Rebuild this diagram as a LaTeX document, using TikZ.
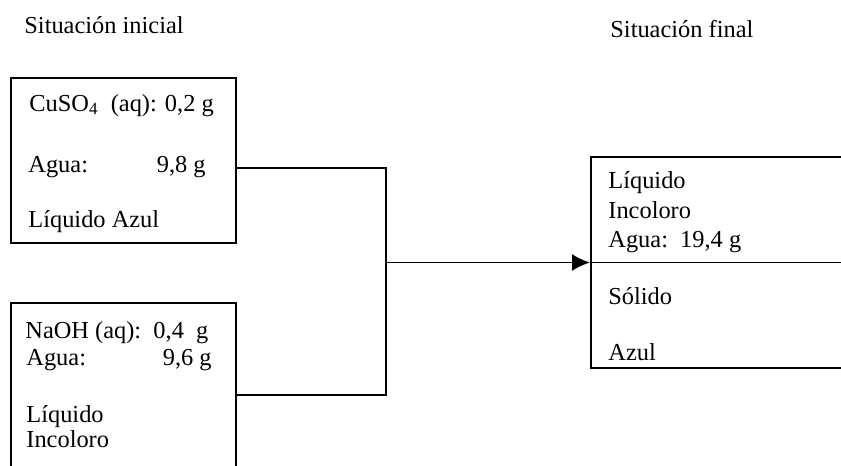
\documentclass[tikz,border=0pt]{standalone}
\usepackage{fontspec}
\setmainfont{Liberation Serif}
\usetikzlibrary{arrows.meta}
\begin{document}
\begin{tikzpicture}[x=0.5pt, y=-0.5pt, font=\fontsize{12.2}{14}\selectfont,
	caja/.style={shape=rectangle, draw, line width=1pt, inner sep=0pt},
	texto/.style={anchor=base west, inner sep=0pt},
	cifra/.style={anchor=base east, inner sep=0pt},
	linea/.style={line width=0.9pt},
	flecha/.style={line width=0.9pt, -{Latex[length=9pt, width=8.5pt]}}]
	\clip (0, 0) rectangle (841, 466);
	\node[texto] (ini) at (24, 33){Situación inicial};
	\node[texto] (fin) at (610, 37){Situación final};
	\node[caja, minimum width=112.5pt, minimum height=82.5pt] (cuso) at (123.5, 160.5){};
	\node[caja, minimum width=112.5pt, minimum height=108.5pt] (naoh) at (123.5, 411.5){};
	\node[caja, minimum width=154.5pt, minimum height=105.5pt] (mezcla) at (745.5, 262.5){};
	\node[texto] (cu1) at (29, 111){CuSO\textsubscript{4}\ \ (aq): 0,2 g};
	\node[texto] (cu2) at (28, 172){Agua:};
	\node[cifra] (cu3) at (206, 172){9,8 g};
	\node[texto] (cu4) at (28, 227){Líquido Azul};
	\node[texto] (na1) at (25, 338){NaOH (aq):\ \ 0,4\ \ g};
	\node[texto] (na2) at (26, 365){Agua:};
	\node[cifra] (na3) at (212, 365){9,6 g};
	\node[texto] (na4) at (26, 422){Líquido};
	\node[texto] (na5) at (26, 447){Incoloro};
	\node[texto] (me1) at (608, 188){Líquido};
	\node[texto] (me2) at (608, 218){Incoloro};
	\node[texto] (me3) at (608, 247){Agua:\ \ 19,4 g};
	\node[texto] (me4) at (608, 304){Sólido};
	\node[texto] (me5) at (608, 360){Azul};
	\coordinate (junta) at (386, 262.5);
	\draw[linea] ([yshift=-3.75pt]cuso.east) -| (junta);
	\draw[linea] ([yshift=-46.5pt]naoh.north east) -| (junta);
	\draw[flecha] (junta) -- (mezcla.west);
	\draw[linea] (mezcla.west) -- (mezcla.east);
\end{tikzpicture}
\end{document}
